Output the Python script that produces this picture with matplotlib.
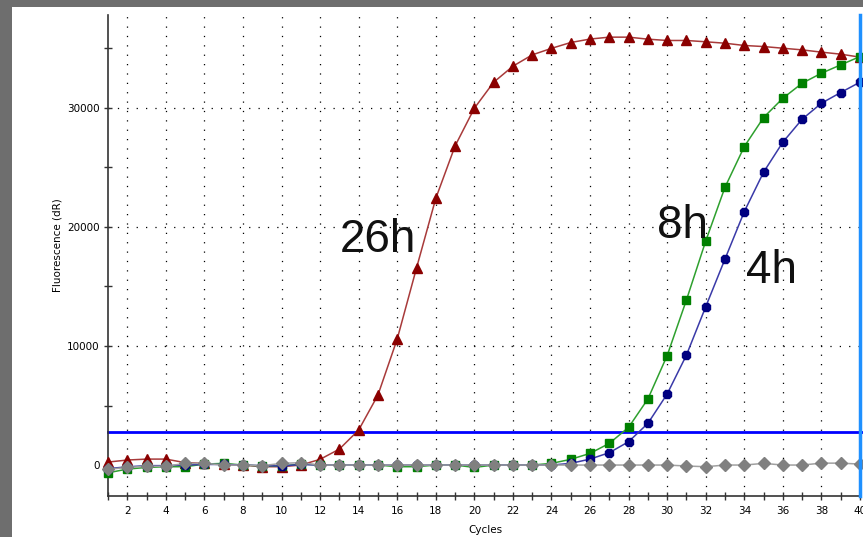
import matplotlib
matplotlib.use("Agg")
import matplotlib.pyplot as plt
from matplotlib.patches import Rectangle

# Amplification data (fluorescence dR per cycle)
cycles = list(range(1, 41))

h26 = [250, 420, 500, 500, 200, 140, 50, 0, -140, -140,
       0, 480, 1340, 2940, 5880, 10590, 16550, 22400, 26800, 29970,
       32150, 33500, 34450, 35000, 35490, 35780, 35940, 35940, 35770, 35660,
       35660, 35550, 35430, 35240, 35150, 35010, 34870, 34680, 34510, 34260]

h8 = [-650, -340, -200, -140, -140, 80, 140, 0, -80, -80,
      80, 0, 0, 0, 0, -140, -140, 0, 0, -200,
      0, 0, 0, 140, 480, 980, 1820, 3170, 5550, 9200,
      13870, 18820, 23340, 26750, 29190, 30810, 32070, 32910, 33610, 34310]

h4 = [-300, -150, -50, -50, 0, 50, 50, 0, -50, -80,
      50, 0, 0, 0, 0, 0, 0, 0, 0, 0,
      0, 0, 0, 0, 140, 500, 1040, 1960, 3500, 5970,
      9240, 13300, 17310, 21290, 24600, 27120, 29050, 30390, 31290, 32160]

ntc = [-360, -200, -100, -100, 140, 140, 0, 0, -50, 140,
       200, 0, 0, 0, 0, 0, 0, 0, 0, 0,
       0, 0, 0, 0, 0, 0, 0, 0, 0, 0,
       -80, -140, 0, 0, 140, 0, 0, 160, 160, 80]

threshold = 2780
x_ticks = list(range(1, 41))
x_labels = [str(c) if c % 2 == 0 else "" for c in x_ticks]
y_major = [0, 10000, 20000, 30000]
y_minor = [5000, 15000, 25000, 35000]

W, H = 863, 537
fig = plt.figure(figsize=(W / 100, H / 100), dpi=100)
fig.patch.set_facecolor("white")

# window frame
fig.patches.append(Rectangle((0, 0), 12 / W, 1, transform=fig.transFigure,
                             facecolor="#6e6e6e", edgecolor="none", zorder=0))
fig.patches.append(Rectangle((0, 1 - 7 / H), 1, 7 / H, transform=fig.transFigure,
                             facecolor="#6e6e6e", edgecolor="none", zorder=0))

left, right = 108, 860
bottom, top = 496, 15
ax = fig.add_axes([left / W, (H - bottom) / H, (right - left) / W, (bottom - top) / H])
ax.set_facecolor("none")

for s in ("top", "right"):
    ax.spines[s].set_visible(False)
for s in ("left", "bottom"):
    ax.spines[s].set_color("#333333")
    ax.spines[s].set_linewidth(1.2)

ax.set_xticks(x_ticks)
ax.set_xticklabels(x_labels)
ax.set_yticks(y_major)
ax.set_yticklabels([str(v) for v in y_major])
ax.set_yticks(y_minor, minor=True)
ax.tick_params(axis="both", which="both", direction="inout", length=6,
               width=1, color="#333333", labelsize=7.5, pad=3)
ax.tick_params(axis="x", pad=4)

ymin, ymax = -2600, 37800
ax.set_xlim(1, 40)
ax.set_ylim(ymin, ymax)

# dotted grid
for gx in range(2, 40, 2):
    ax.plot([gx, gx], [ymin, ymax], color="black", lw=0.9,
            ls=(0, (1, 6.5)), zorder=1)
for gy in (10000, 20000, 30000):
    ax.plot([1, 40], [gy, gy], color="black", lw=0.9,
            ls=(0, (1, 6.5)), zorder=1)

ax.set_xlabel("Cycles", fontsize=7.5, va="center")
ax.xaxis.set_label_coords((485 - left) / (right - left), -(530 - bottom) / (bottom - top))
ax.set_ylabel("Fluorescence (dR)", fontsize=7.5, va="center")
ax.yaxis.set_label_coords(-(left - 57) / (right - left), (bottom - 245) / (bottom - top))

# threshold and end-cycle marker
ax.axhline(threshold, color="#0000ff", lw=2, zorder=2, clip_on=False, xmax=1.01)
ax.axvline(40, color="#1e90ff", lw=2.5, zorder=6, clip_on=False)

ax.plot(cycles, h26, color="#a83a3a", lw=1.1, marker="^", ms=7.5,
        mfc="#8b0000", mec="#8b0000", zorder=3, clip_on=False)
ax.plot(cycles, h8, color="#2ea02e", lw=1.1, marker="s", ms=6,
        mfc="#008000", mec="#008000", zorder=4, clip_on=False)
ax.plot(cycles, h4, color="#3a3aa8", lw=1.1, marker="8", ms=6.5,
        mfc="#000080", mec="#000080", zorder=4, clip_on=False)
ax.plot(cycles, ntc, color="#a0a0a0", lw=1.1, marker="D", ms=6,
        mfc="#808080", mec="#808080", zorder=5, clip_on=False)

lab_font = dict(fontsize=33, family="Liberation Sans", color="#111111",
                ha="center", va="center", zorder=7)
fig.text(378 / W, 1 - 240 / H, "26h", **lab_font)
fig.text(682 / W, 1 - 226 / H, "8h", **lab_font)
fig.text(771 / W, 1 - 271 / H, "4h", **lab_font)

fig.savefig("out.png", dpi=100)
